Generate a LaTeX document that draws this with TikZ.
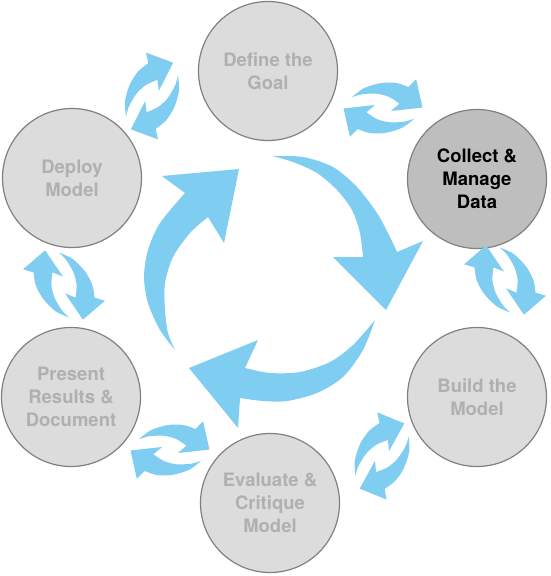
\documentclass[tikz,border=0pt]{standalone}
\usepackage{fontspec}
\setmainfont{TeX Gyre Heros}
\definecolor{arrowblue}{HTML}{80CDF2}
\definecolor{circfill}{HTML}{DCDCDC}
\definecolor{circact}{HTML}{BEBEBE}
\definecolor{circline}{HTML}{808080}
\definecolor{txtgrey}{HTML}{B0B0B0}
\tikzset{
  pics/cyclepair/.style={code={
    \foreach \r in {0,180}{
      \fill[arrowblue, rotate=\r, scale=1.05]
        plot[smooth] coordinates {(5,31) (-8,25) (-20,13) (-27,0) (-29,-12)}
        -- (-39,-15) -- (-18,-33) -- (-1,-8) -- (-11,-12)
        -- plot[smooth] coordinates {(-11,-12) (-12,0) (-9,12) (-2,24) (5,31)} -- cycle;
    }
  }}
}
\begin{document}
\begin{tikzpicture}[x=1pt,y=-1pt,
  stage/.style={circle, draw=circline, line width=1.2pt, fill=circfill,
    minimum size=139pt, inner sep=0pt, align=center,
    font=\fontsize{18.5}{23}\selectfont\bfseries, text=txtgrey},
  active/.style={fill=circact, text=black},
  bigarrow/.style={fill=arrowblue}]
\useasboundingbox (0,0) rectangle (550,576);

\node[stage] (goal) at (268,71) {Define the\\Goal};
\node[stage, active] (collect) at (477,179) {Collect \&\\Manage\\Data};
\node[stage] (build) at (477,397) {Build the\\Model};
\node[stage] (eval) at (270,503) {Evaluate \&\\Critique\\Model};
\node[stage] (present) at (71,397) {Present\\Results \&\\Document};
\node[stage] (deploy) at (72,178) {Deploy\\Model};

% big central cycle
\fill[bigarrow] plot[smooth] coordinates {(272,156) (303,157) (333,167) (357,187) (377,213) (390,237) (397,252)}
  -- (423,241) -- (386,310) -- (333,257) -- (363,257)
  -- plot[smooth] coordinates {(363,257) (360,233) (352,210) (337,190) (317,173) (293,162) (272,156)} -- cycle;
\fill[bigarrow] plot[smooth] coordinates {(375,320) (363,350) (343,377) (317,393) (287,401) (263,401) (240,398)}
  -- (238,428) -- (189,368) -- (258,340) -- (245,368)
  -- plot[smooth] coordinates {(245,368) (270,373) (300,372) (330,362) (353,345) (375,320)} -- cycle;
\fill[bigarrow] plot[smooth] coordinates {(175,350) (160,330) (148,303) (144,277) (148,250) (160,223) (185,193)}
  -- (162,176) -- (239,169) -- (224,243) -- (208,217)
  -- plot[smooth] coordinates {(208,217) (190,233) (173,257) (165,283) (165,310) (168,333) (175,350)} -- cycle;

% small cycle pairs between stages
\pic[rotate=-61] at (152,96) {cyclepair};
\pic[rotate=62] at (383,108) {cyclepair};
\pic at (505,280) {cyclepair};
\pic[rotate=-63] at (382,456) {cyclepair};
\pic[rotate=62] at (170,450) {cyclepair};
\pic at (64,285) {cyclepair};
\end{tikzpicture}
\end{document}
